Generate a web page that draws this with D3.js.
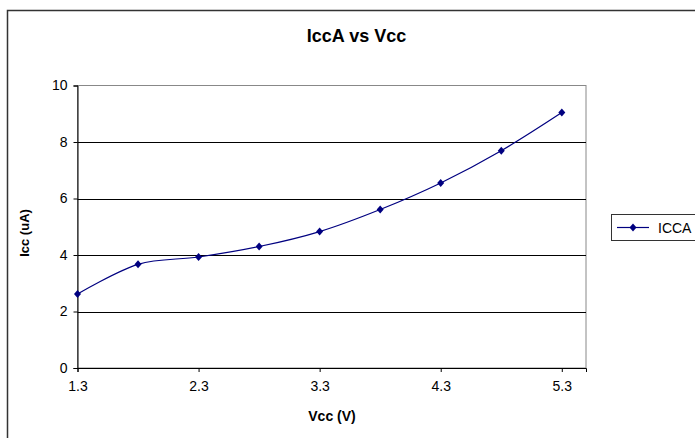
<!DOCTYPE html>
<html><head><meta charset="utf-8">
<script src="https://cdn.jsdelivr.net/npm/d3@7"></script>
<style>body{margin:0;background:#fff}svg{display:block}text{font-family:"Liberation Sans",Arial,sans-serif}</style>
</head><body><svg id="c" width="695" height="438"></svg>
<script>
const vcc = [1.3, 1.8, 2.3, 2.8, 3.3, 3.8, 4.3, 4.8, 5.3];
const icca = [2.62, 3.67, 3.93, 4.30, 4.83, 5.61, 6.55, 7.69, 9.04];
const xTicks = [1.3, 2.3, 3.3, 4.3, 5.3];
const yTicks = [0, 2, 4, 6, 8, 10];
const seriesName = "ICCA";

const svg = d3.select("#c");
const L = 77.5, R = 586, T = 85.5, B = 368;
const x = d3.scaleLinear().domain([1.3, 5.5]).range([L, R]);
const y = d3.scaleLinear().domain([0, 10]).range([B, T]);

// chart frame
svg.append("rect").attr("x", 7.5).attr("y", 10.5).attr("width", 700).attr("height", 440)
  .attr("fill", "#fff").attr("stroke", "#333").attr("stroke-width", 1.5);

// plot border
svg.append("rect").attr("x", L).attr("y", T).attr("width", R - L).attr("height", B - T)
  .attr("fill", "#fff").attr("stroke", "#888").attr("stroke-width", 1);

// gridlines
svg.append("g").selectAll("line").data(yTicks.filter(d => d > 0 && d < 10)).join("line")
  .attr("x1", L).attr("x2", R).attr("y1", d => Math.round(y(d)) + 0.5).attr("y2", d => Math.round(y(d)) + 0.5)
  .attr("stroke", "#000").attr("stroke-width", 1);

// axes
const ya = svg.append("g").attr("transform", `translate(${L},0)`)
  .call(d3.axisLeft(y).tickValues(yTicks).tickSize(4).tickPadding(6).tickFormat(d3.format("d")));
const xa = svg.append("g").attr("transform", `translate(0,${B})`)
  .call(d3.axisBottom(x).tickValues(xTicks).tickSize(4).tickPadding(9).tickFormat(d3.format(".1f")));
[ya, xa].forEach(a => {
  a.select(".domain").attr("stroke", "#000");
  a.selectAll(".tick line").attr("stroke", "#000");
  a.selectAll("text").attr("font-size", 14).attr("fill", "#000")
    .style("font-family", '"Liberation Sans", Arial, sans-serif');
});

// line
const pts = vcc.map((v, i) => [v, icca[i]]);
svg.append("path").datum(pts)
  .attr("d", d3.line().x(d => x(d[0])).y(d => y(d[1])).curve(d3.curveCardinal.tension(0)))
  .attr("fill", "none").attr("stroke", "#000080").attr("stroke-width", 1.2);

const diamond = "M0,-4L3.5,0L0,4L-3.5,0Z";
svg.append("g").selectAll("path").data(pts).join("path")
  .attr("transform", d => `translate(${x(d[0])},${y(d[1])})`)
  .attr("d", diamond).attr("fill", "#000080");

// title and axis labels
svg.append("text").attr("x", 356.5).attr("y", 42).attr("text-anchor", "middle")
  .attr("font-size", 18).attr("font-weight", "bold").text("IccA vs Vcc");
svg.append("text").attr("transform", "translate(29,233) rotate(-90)").attr("text-anchor", "middle")
  .attr("font-size", 13).attr("font-weight", "bold").text("Icc (uA)");
svg.append("text").attr("x", 332).attr("y", 421).attr("text-anchor", "middle")
  .attr("font-size", 14).attr("font-weight", "bold").text("Vcc (V)");

// legend
svg.append("rect").attr("x", 611.5).attr("y", 214.5).attr("width", 100).attr("height", 26)
  .attr("fill", "#fff").attr("stroke", "#333").attr("stroke-width", 1);
svg.append("line").attr("x1", 617).attr("x2", 649).attr("y1", 227.5).attr("y2", 227.5)
  .attr("stroke", "#000080").attr("stroke-width", 1.2);
svg.append("path").attr("transform", "translate(633,227.5)").attr("d", diamond).attr("fill", "#000080");
svg.append("text").attr("x", 658).attr("y", 232.5).attr("font-size", 14).text(seriesName);
</script></body></html>
